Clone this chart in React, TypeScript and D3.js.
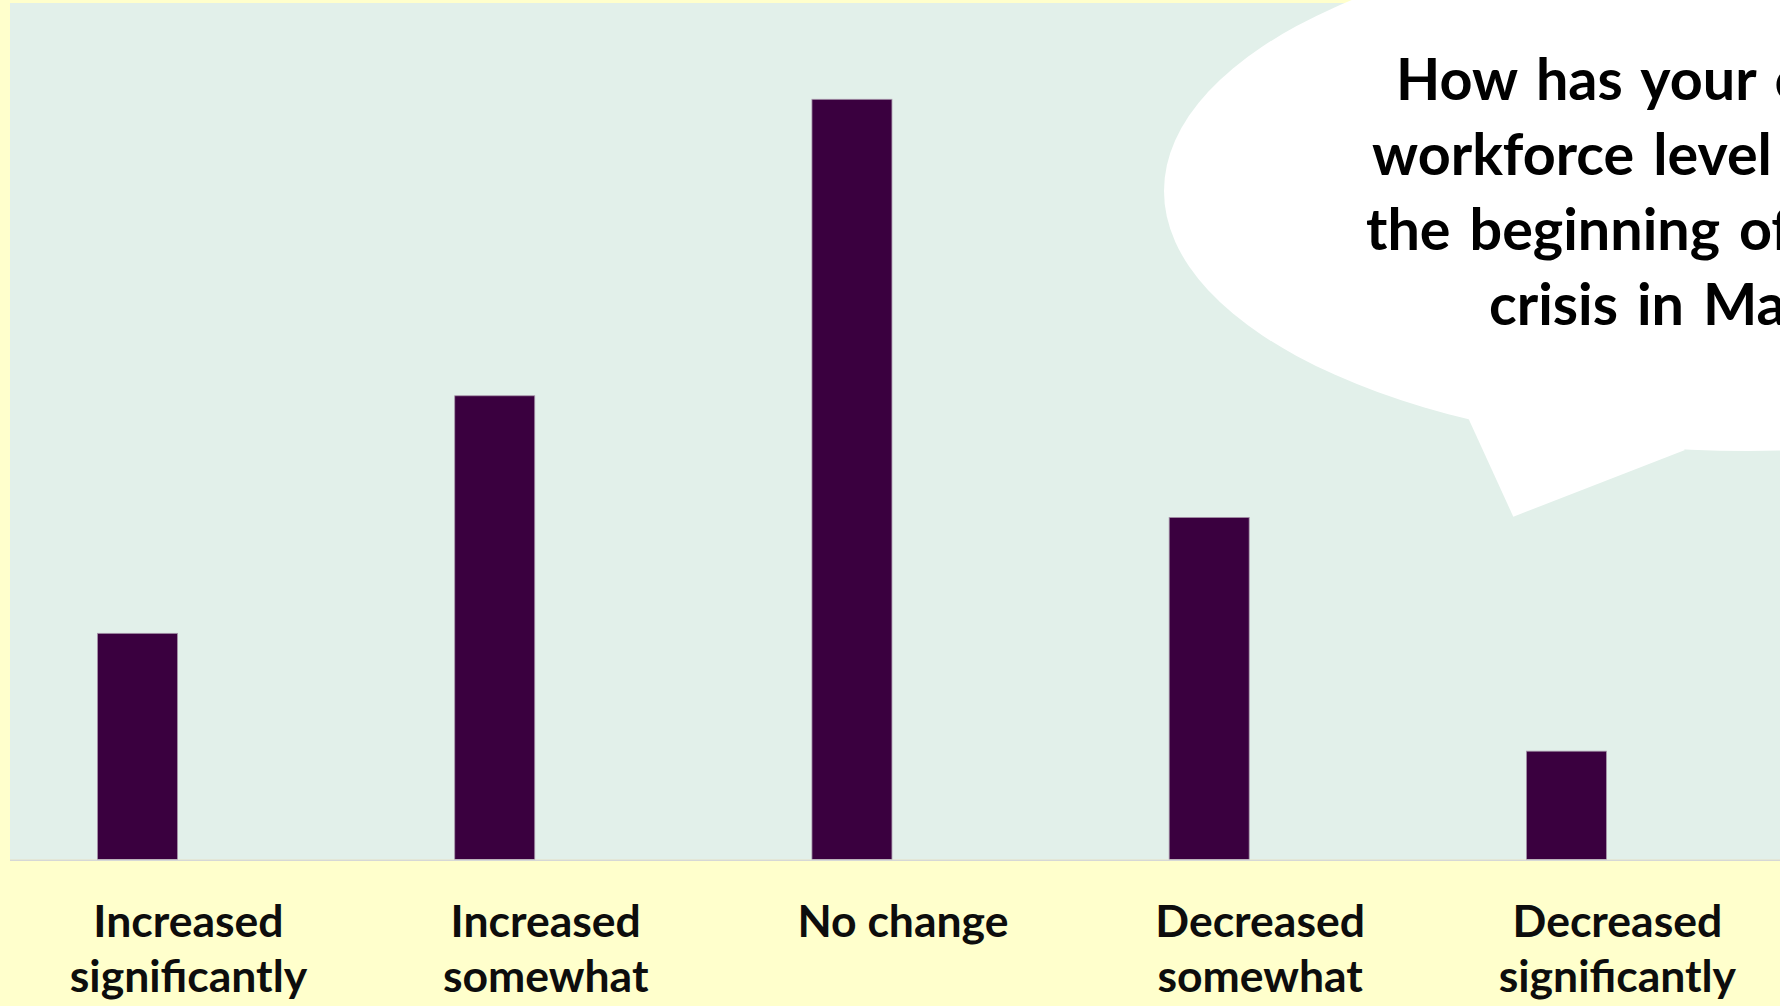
import React from "react";
import * as d3 from "d3";

// Survey answers, in display order
const categories = [
  "Increased significantly",
  "Increased somewhat",
  "No change",
  "Decreased somewhat",
  "Decreased significantly",
];
// Axis label lines for each answer
const labelLines = [
  ["Increased", "significantly"],
  ["Increased", "somewhat"],
  ["No change"],
  ["Decreased", "somewhat"],
  ["Decreased", "significantly"],
];
// Share of respondents (%)
const shares = [11.9, 24.4, 40.0, 18.0, 5.7];
// Question shown in the callout
const questionLines = [
  "How has your company's",
  "workforce level changed since",
  "the beginning of the COVID-19",
  "crisis in March 2020?",
];
const yMax = 45;

const W = 1780;
const H = 1006;
const plot = { left: 10, top: 3, right: 1780, bottom: 859.5 };
const barWidth = 80;
const labelShift = 51;

export default function App() {
  const x = d3
    .scalePoint<string>()
    .domain(categories)
    .range([137.5, 1566.4]);
  const y = d3
    .scaleLinear()
    .domain([0, yMax])
    .range([plot.bottom, plot.bottom - yMax * 19.005]);

  // Callout: ellipse with a wedge-shaped tail
  const bubble = { cx: 1748, cy: 191, rx: 584, ry: 260 };
  const tail = d3.line()([
    [1600, 380],
    [1468.3, 418.3],
    [1513.3, 516.7],
    [1685, 450],
  ]) + "Z";
  const qStarts = [1396, 1372, 1366, 1489];

  return (
    <svg
      width={W}
      height={H}
      style={{ position: "absolute", left: 0, top: 0, display: "block" }}
    >
      <rect x={0} y={0} width={W} height={H} fill="#FFFFCC" />
      <rect
        x={plot.left}
        y={plot.top}
        width={plot.right - plot.left}
        height={plot.bottom - plot.top}
        fill="#E2F0EA"
      />
      {shares.map((v, i) => (
        <rect
          key={categories[i]}
          x={(x(categories[i]) as number) - barWidth / 2}
          y={y(v)}
          width={barWidth}
          height={y(0) - y(v)}
          fill="#3A003F"
          stroke="#A795AA"
          strokeWidth={0.8}
        />
      ))}
      <line
        x1={plot.left}
        x2={plot.right}
        y1={plot.bottom + 0.75}
        y2={plot.bottom + 0.75}
        stroke="#D6D8D6"
        strokeWidth={1.5}
      />
      <g
        fontFamily="Lato, 'Noto Sans', sans-serif"
        fontWeight={700}
        fontSize={44.5}
        fill="#0D0D0D"
        textAnchor="middle"
      >
        {labelLines.map((lines, i) => (
          <text
            key={categories[i]}
            x={(x(categories[i]) as number) + labelShift}
            y={937}
          >
            {lines.map((ln, j) => (
              <tspan
                key={j}
                x={(x(categories[i]) as number) + labelShift}
                dy={j === 0 ? 0 : 55}
              >
                {ln}
              </tspan>
            ))}
          </text>
        ))}
      </g>
      <g fill="#FFFFFF">
        <ellipse cx={bubble.cx} cy={bubble.cy} rx={bubble.rx} ry={bubble.ry} />
        <path d={tail} />
      </g>
      <g
        fontFamily="Lato, 'Noto Sans', sans-serif"
        fontWeight={700}
        fontSize={57.5}
        wordSpacing={5}
        fill="#000000"
      >
        {questionLines.map((ln, i) => (
          <text key={i} x={qStarts[i]} y={100 + i * 75}>
            {ln}
          </text>
        ))}
      </g>
    </svg>
  );
}
